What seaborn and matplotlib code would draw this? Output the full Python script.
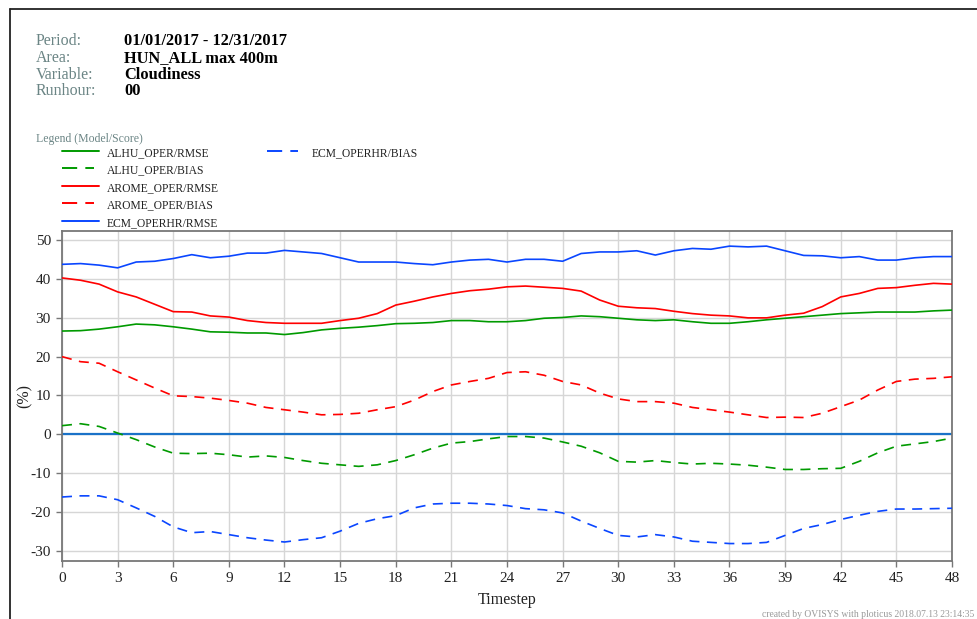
import numpy as np
import pandas as pd
import matplotlib
matplotlib.use("Agg")
import matplotlib.pyplot as plt
from matplotlib.lines import Line2D
import seaborn as sns

# ---------------- data ----------------
timesteps = list(range(49))
x_ticks = list(range(0, 49, 3))
y_ticks = [-30, -20, -10, 0, 10, 20, 30, 40, 50]

alhu_rmse = [26.6, 26.7, 27.1, 27.7, 28.4, 28.2, 27.7, 27.1, 26.4, 26.3, 26.1, 26.1, 25.7,
             26.2, 26.9, 27.3, 27.6, 28.0, 28.5, 28.6, 28.8, 29.3, 29.3, 29.0, 29.0, 29.3,
             29.9, 30.1, 30.5, 30.3, 29.9, 29.5, 29.3, 29.5, 29.0, 28.6, 28.6, 29.0, 29.5,
             29.9, 30.3, 30.7, 31.1, 31.3, 31.5, 31.5, 31.5, 31.8, 32.0]
alhu_bias = [2.2, 2.7, 2.0, 0.3, -1.4, -3.3, -4.9, -5.0, -4.9, -5.3, -5.9, -5.6, -6.0,
             -6.8, -7.5, -7.9, -8.3, -7.9, -6.8, -5.3, -3.6, -2.3, -1.9, -1.2, -0.6, -0.6,
             -1.0, -2.0, -3.1, -4.8, -7.0, -7.2, -6.8, -7.3, -7.7, -7.5, -7.7, -8.0, -8.5,
             -9.1, -9.1, -8.9, -8.8, -7.0, -4.8, -3.1, -2.5, -1.9, -1.0]
arome_rmse = [40.3, 39.7, 38.7, 36.7, 35.4, 33.5, 31.6, 31.5, 30.5, 30.2, 29.3, 28.8, 28.6,
              28.6, 28.6, 29.3, 29.9, 31.1, 33.3, 34.3, 35.4, 36.3, 37.0, 37.4, 38.0, 38.2,
              37.9, 37.6, 36.9, 34.6, 33.0, 32.6, 32.4, 31.7, 31.1, 30.7, 30.5, 30.0, 30.0,
              30.7, 31.2, 32.9, 35.4, 36.3, 37.6, 37.8, 38.4, 38.9, 38.7]
arome_bias = [20.0, 18.7, 18.3, 16.1, 14.0, 11.9, 9.9, 9.7, 9.3, 8.7, 8.0, 6.9, 6.3,
              5.7, 5.0, 5.1, 5.4, 6.3, 7.1, 8.8, 11.0, 12.7, 13.6, 14.4, 15.9, 16.1,
              15.2, 13.6, 12.7, 10.6, 9.1, 8.4, 8.4, 8.0, 6.9, 6.3, 5.7, 5.0, 4.3,
              4.4, 4.3, 5.4, 7.1, 8.8, 11.4, 13.6, 14.2, 14.4, 14.8]
ecm_rmse = [43.8, 44.0, 43.6, 42.9, 44.4, 44.6, 45.3, 46.3, 45.5, 45.9, 46.7, 46.7, 47.4,
            47.0, 46.6, 45.5, 44.4, 44.4, 44.4, 44.0, 43.7, 44.4, 44.9, 45.1, 44.4, 45.1,
            45.1, 44.6, 46.6, 47.0, 47.0, 47.3, 46.2, 47.3, 47.9, 47.7, 48.5, 48.3, 48.5,
            47.3, 46.1, 46.0, 45.5, 45.8, 44.9, 44.9, 45.5, 45.8, 45.8]
ecm_bias = [-16.2, -15.9, -15.9, -16.9, -19.0, -21.2, -23.9, -25.4, -25.1, -25.9, -26.7, -27.3, -27.8,
            -27.2, -26.7, -25.0, -23.0, -21.8, -21.0, -19.0, -18.0, -17.8, -17.8, -18.0, -18.4, -19.2,
            -19.5, -20.3, -22.4, -24.3, -26.1, -26.5, -25.9, -26.5, -27.6, -27.9, -28.2, -28.2, -27.9,
            -26.1, -24.3, -23.3, -22.0, -20.9, -19.9, -19.3, -19.3, -19.2, -19.1]

series_names = ["ALHU_OPER/RMSE", "ALHU_OPER/BIAS", "AROME_OPER/RMSE",
                "AROME_OPER/BIAS", "ECM_OPERHR/RMSE", "ECM_OPERHR/BIAS"]
series_values = [alhu_rmse, alhu_bias, arome_rmse, arome_bias, ecm_rmse, ecm_bias]

header_labels = ["Period:", "Area:", "Variable:", "Runhour:"]
header_values = ["01/01/2017 - 12/31/2017", "HUN_ALL max 400m", "Cloudiness", "00"]

# ---------------- style ----------------
GREEN = "#009a00"
RED = "#ff0000"
BLUE = "#0a46ff"
ZERO = "#1a72c8"
LABEL_GRAY = "#6b8585"

colors = {series_names[0]: GREEN, series_names[1]: GREEN,
          series_names[2]: RED, series_names[3]: RED,
          series_names[4]: BLUE, series_names[5]: BLUE}
DASH = (6, 4.5)
dashes = {n: ("" if n.endswith("RMSE") else DASH) for n in series_names}

sns.set_theme(style="white")
plt.rcParams["font.family"] = ["Liberation Serif", "DejaVu Serif"]
plt.rcParams["axes.unicode_minus"] = False

W, H = 977, 619
fig = plt.figure(figsize=(W / 100, H / 100), dpi=100)
fig.patch.set_facecolor("white")

ax = fig.add_axes([62 / W, 1 - 561 / H, 890 / W, 330 / H])

df = pd.DataFrame({
    "Timestep": np.tile(timesteps, len(series_names)),
    "value": np.concatenate(series_values),
    "series": np.repeat(series_names, len(timesteps)),
})

ax.axhline(0, color=ZERO, lw=1.6, zorder=1)
sns.lineplot(data=df, x="Timestep", y="value", hue="series", style="series",
             hue_order=series_names, style_order=series_names,
             palette=colors, dashes=dashes, linewidth=1.2, legend=False,
             ax=ax, zorder=3)

ax.set_xlim(0, 48)
ax.set_ylim(-32.7, 52.4)
ax.set_xticks(x_ticks)
ax.set_yticks(y_ticks)
ax.grid(True, color="#d6d6d6", lw=1.0, zorder=0)
ax.set_axisbelow(True)
for s in ax.spines.values():
    s.set_visible(True)
    s.set_color("#777777")
    s.set_linewidth(1.3)
ax.tick_params(axis="both", which="major", direction="out", length=4, width=1,
               color="#777777", labelsize=11, labelcolor="#222222", pad=4)
ax.tick_params(axis="x", bottom=True)
ax.tick_params(axis="y", left=True)
ax.set_xlabel("Timestep", fontsize=11.5, color="#222222")
ax.set_ylabel("(%)", fontsize=11.5, color="#222222")
ax.xaxis.set_label_coords(0.5, -0.095)
ax.yaxis.set_label_coords(-0.033, 0.5)

# ---------------- header ----------------
def fy(py):
    return 1 - py / H

for i, (lab, val) in enumerate(zip(header_labels, header_values)):
    yb = fy(45 + i * 16.8)
    fig.text(36 / W, yb, lab, fontsize=11.5, color=LABEL_GRAY, va="baseline", ha="left")
    fig.text(124 / W, yb, val, fontsize=11.8, color="black", fontweight="bold",
             va="baseline", ha="left")

# ---------------- legend ----------------
fig.text(35.5 / W, fy(141.7), "Legend (Model/Score)", fontsize=8.5, color=LABEL_GRAY,
         va="baseline", ha="left")
leg_pos = [(62, 99, 107, 150.5), (62, 94, 107, 168), (62, 99, 107, 185.5),
           (62, 94, 107, 203), (62, 99, 107, 220.5), (267, 298, 312, 150.5)]
for name, (x0, x1, xt, py) in zip(series_names, leg_pos):
    ln = Line2D([x0 / W, x1 / W], [fy(py), fy(py)], transform=fig.transFigure,
                color=colors[name], lw=1.4)
    if not name.endswith("RMSE"):
        ln.set_dashes((7.8, 4.2))
    fig.add_artist(ln)
    fig.text(xt / W, fy(py + 2.5), name, fontsize=8.4, color="#222222",
             va="center", ha="left")

# ---------------- frame + footer ----------------
fig.add_artist(Line2D([9.5 / W, 9.5 / W], [0, fy(8.5)], transform=fig.transFigure,
                      color="#222222", lw=1.3))
fig.add_artist(Line2D([9.5 / W, 1], [fy(8.5), fy(8.5)], transform=fig.transFigure,
                      color="#222222", lw=1.3))
fig.text(974 / W, fy(617), "created by OVISYS with ploticus 2018.07.13 23:14:35",
         fontsize=6.9, color="#999999", va="baseline", ha="right")

fig.savefig("out.png", dpi=100, facecolor="white")
